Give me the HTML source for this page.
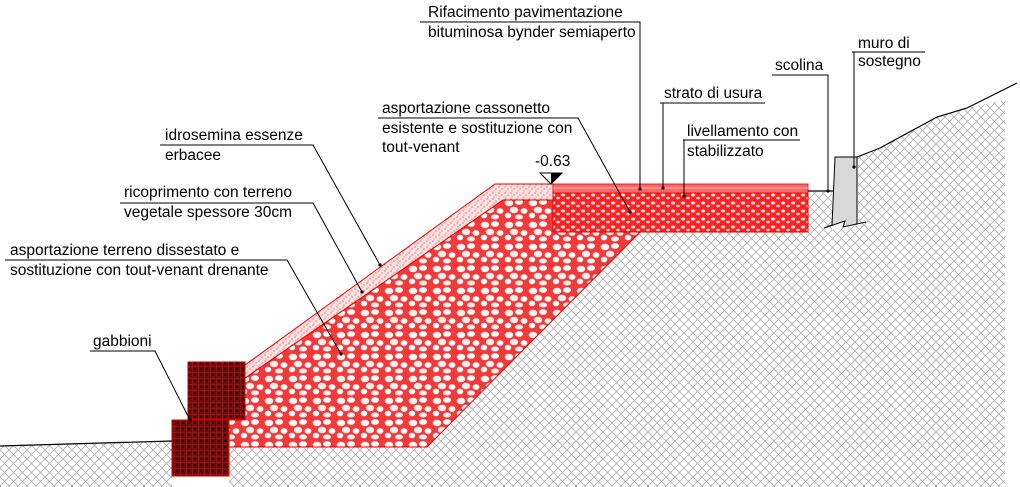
<!DOCTYPE html>
<html><head><meta charset="utf-8"><style>
html,body{margin:0;padding:0;background:#fff;}
svg{display:block;}
text{font-family:"Liberation Sans",Arial,sans-serif;font-size:15.5px;fill:#000;}
</style></head><body>
<svg width="1020" height="487" viewBox="0 0 1020 487" xmlns="http://www.w3.org/2000/svg">
<defs>
<pattern id="grey" width="9" height="9" patternUnits="userSpaceOnUse">
<path d="M0 9L9 0M0 0L9 9" stroke="#b0b0b0" stroke-width="0.9"/>
</pattern>
<pattern id="stone" width="24" height="22" patternUnits="userSpaceOnUse">
<rect width="24" height="22" fill="#f23a3a"/>
<ellipse cx="5" cy="5" rx="4.2" ry="3.2" fill="#fff5f5"/>
<ellipse cx="15" cy="4" rx="4" ry="2.8" fill="#fff"/>
<ellipse cx="10" cy="12" rx="4.2" ry="3.2" fill="#ffecec"/>
<ellipse cx="20" cy="13" rx="3.4" ry="2.8" fill="#fff"/>
<ellipse cx="4" cy="17.5" rx="3.2" ry="2.8" fill="#fff"/>
<ellipse cx="15" cy="19" rx="4" ry="2.5" fill="#ffeeee"/>
</pattern>
<pattern id="base" width="10" height="8" patternUnits="userSpaceOnUse">
<rect width="10" height="8" fill="#f22"/>
<ellipse cx="3" cy="3" rx="2.2" ry="1.5" fill="#fdd"/>
<ellipse cx="8" cy="6" rx="1.8" ry="1.3" fill="#fdd"/>
</pattern>
<pattern id="soil" width="6" height="6" patternUnits="userSpaceOnUse">
<rect width="6" height="6" fill="#fbe3e3"/>
<circle cx="1" cy="1" r="0.6" fill="#e33"/><circle cx="4" cy="3" r="0.6" fill="#e33"/><circle cx="2" cy="5" r="0.5" fill="#e33"/>
</pattern>
<pattern id="gab" width="6" height="6" patternUnits="userSpaceOnUse">
<rect width="6" height="6" fill="#6a0c0c"/>
<path d="M0 0H6M0 0V6" stroke="#c0201e" stroke-width="0.8"/>
<circle cx="3" cy="3" r="1" fill="#111"/>
</pattern>
</defs>

<polygon points="0,446 172,441 172,487 1005,487 1005,100 967,108 937,117 880,148 858,157 858,225 832,230 832,192 808,192 808,232 640,232 427,447 229,447 229,487 0,487" fill="url(#grey)"/>

<polygon points="229,447 427,447 640,232 553,232 553,200 503,200 245,378 245,420 229,420" fill="url(#stone)" stroke="#e00" stroke-width="1"/>
<polygon points="245,365 495,184 553,184 553,200 503,200 245,378" fill="url(#soil)" stroke="#e00" stroke-width="1"/>
<rect x="553" y="193" width="255" height="39" fill="url(#base)" stroke="#e00"/>
<rect x="553" y="184" width="255" height="9" fill="#f66" stroke="#e00" stroke-width="0.8"/>
<line x1="553" y1="188" x2="808" y2="188" stroke="#fbb" stroke-width="1"/>

<rect x="188" y="362" width="57" height="57" fill="url(#gab)" stroke="#c00"/>
<rect x="172" y="420" width="57" height="56" fill="url(#gab)" stroke="#c00"/>

<polyline points="0,446 172,441" fill="none" stroke="#000" stroke-width="1.2"/>
<polyline points="808,191 833,191" fill="none" stroke="#000" stroke-width="1.2"/>
<polyline points="857,157 880,148 937,117 967,108 1017,83" fill="none" stroke="#000" stroke-width="1.2"/>

<polygon points="835,157 857,157 857,224 866,222 843,227 845,221 824,228 832,225" fill="#d8d8d8" stroke="#000" stroke-width="1"/>

<polygon points="540,173 562,173 551,184" fill="#fff" stroke="#000"/>
<polygon points="551,173 562,173 551,184" fill="#000"/>
<text x="535" y="166">-0.63</text>

<g stroke="#000" stroke-width="1" fill="none">
<polyline points="420,22 640,22 640,189"/>
<polyline points="852,52 925,52"/><polyline points="854,52 854,167"/>
<polyline points="772,75 828,75 828,191"/>
<polyline points="660,103 765,103"/><polyline points="663,103 663,188"/>
<polyline points="683,140 800,140"/><polyline points="684,140 684,196"/>
<polyline points="378,118 578,118 630,212"/>
<polyline points="160,145 313,145 380,265"/>
<polyline points="120,203 313,203 362,292"/>
<polyline points="5,260 287,260 341,354"/>
<polyline points="90,351 155,351 190,420"/>
</g>
<g fill="#000">
<circle cx="640" cy="189" r="1.6"/><circle cx="854" cy="167" r="1.6"/><circle cx="828" cy="191" r="1.6"/>
<circle cx="663" cy="188" r="1.6"/><circle cx="684" cy="196" r="1.6"/><circle cx="630" cy="212" r="1.6"/>
<circle cx="380" cy="265" r="1.6"/><circle cx="362" cy="292" r="1.6"/><circle cx="341" cy="354" r="1.6"/><circle cx="190" cy="420" r="1.6"/>
</g>
<text x="428" y="17">Rifacimento pavimentazione</text>
<text x="428" y="37">bituminosa bynder semiaperto</text>
<text x="858" y="48">muro di</text>
<text x="858" y="66">sostegno</text>
<text x="775" y="70">scolina</text>
<text x="664" y="98">strato di usura</text>
<text x="687" y="136">livellamento con</text>
<text x="687" y="156">stabilizzato</text>
<text x="382" y="113">asportazione cassonetto</text>
<text x="382" y="133">esistente e sostituzione con</text>
<text x="382" y="152">tout-venant</text>
<text x="165" y="140">idrosemina essenze</text>
<text x="165" y="160">erbacee</text>
<text x="124" y="197">ricoprimento con terreno</text>
<text x="124" y="217">vegetale spessore  30cm</text>
<text x="10" y="255">asportazione terreno dissestato e</text>
<text x="10" y="275">sostituzione con tout-venant drenante</text>
<text x="93" y="346">gabbioni</text>
</svg>
</body></html>
